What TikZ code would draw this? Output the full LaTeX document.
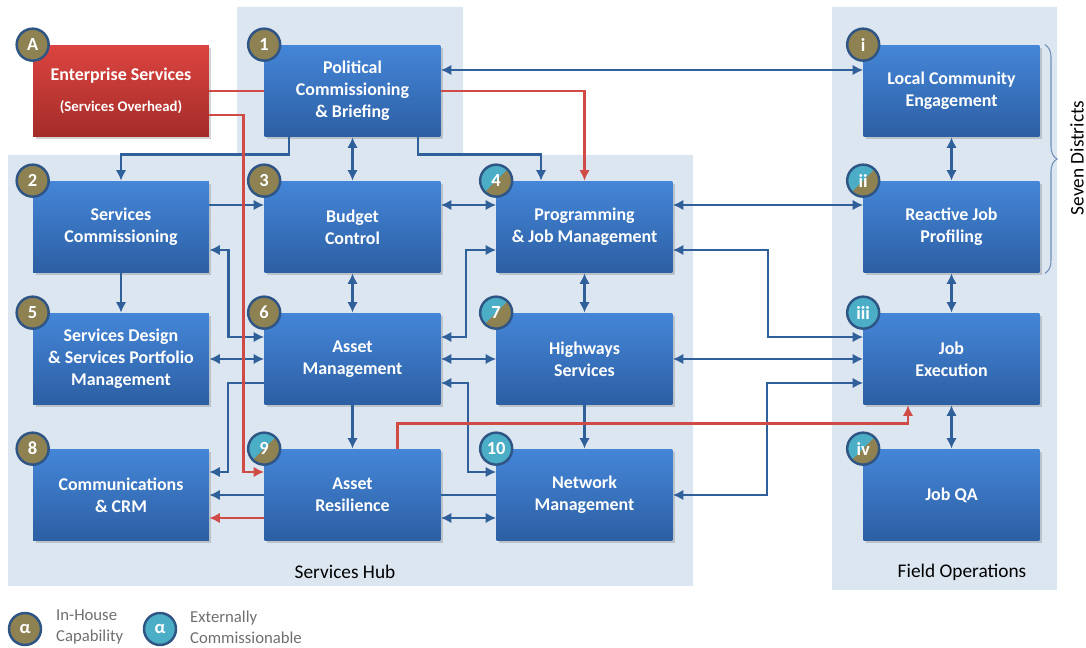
\documentclass[tikz,border=0pt]{standalone}
\usepackage{fontspec}
\setmainfont{Carlito}
\usetikzlibrary{arrows.meta,shadows,decorations.pathreplacing}

\definecolor{panelbg}{HTML}{DCE6F1}
\definecolor{boxtop}{HTML}{4586D8}
\definecolor{boxbot}{HTML}{2C5FA3}
\definecolor{redtop}{HTML}{DC4440}
\definecolor{redbot}{HTML}{A32C28}
\definecolor{linkblue}{HTML}{30609A}
\definecolor{linkred}{HTML}{D04A46}
\definecolor{olivec}{HTML}{8E8152}
\definecolor{tealc}{HTML}{4BAEC6}
\definecolor{rimblue}{HTML}{2E5584}
\definecolor{legendgray}{HTML}{6E6E6E}

\begin{document}
\begin{tikzpicture}[x=0.02cm,y=-0.02cm]
        \tikzstyle{unit}=[rectangle, minimum width=3.52cm, minimum height=1.84cm, inner sep=0pt, top color=boxtop, bottom color=boxbot, text=white, align=center, font=\bfseries\fontsize{10.2}{12.5}\selectfont, drop shadow={shadow xshift=0.05cm, shadow yshift=-0.05cm, opacity=0.35}]
        \tikzstyle{badge}=[circle, draw=rimblue, line width=1.4pt, fill=olivec, minimum size=0.64cm, inner sep=0pt, text=white, font=\bfseries\fontsize{10.5}{11}\selectfont]
        \tikzstyle{extbadge}=[badge, fill=tealc]
        \tikzstyle{mixbadge}=[badge, fill=tealc, path picture={\fill[olivec] (path picture bounding box.south west) -- (path picture bounding box.north east) -- (path picture bounding box.south east) -- cycle;}]
        \tikzstyle{link}=[draw=linkblue, line width=1.4pt, >={Latex[length=6pt,width=6pt]}]
        \tikzstyle{redlink}=[link, draw=linkred]
        \tikzstyle{caption}=[font=\fontsize{11}{13}\selectfont]

        \useasboundingbox (0,0) rectangle (1086,648);

        % panels
        \fill[panelbg] (237,7) -- (463,7) -- (463,155) -- (693,155) -- (693,586) -- (8,586) -- (8,155) -- (237,155) -- cycle;
        \fill[panelbg] (832,7) rectangle (1057,590);

        \node[unit, top color=redtop, bottom color=redbot] (ent) at (121,91) {Enterprise Services\\[5pt]{\fontsize{8.4}{10}\selectfont(Services Overhead)}};
        \node[unit] (pcb) at (352.5,91) {Political\\Commissioning\\\& Briefing};
        \node[unit] (sc)  at (121,227) {Services\\Commissioning};
        \node[unit] (bc)  at (352.5,227) {Budget\\Control};
        \node[unit] (pjm) at (584.5,227) {Programming\\\& Job Management};
        \node[unit] (sd)  at (121,359) {Services Design\\\& Services Portfolio\\Management};
        \node[unit] (am)  at (352.5,359) {Asset\\Management};
        \node[unit] (hs)  at (584.5,359) {Highways\\Services};
        \node[unit] (crm) at (121,495) {Communications\\\& CRM};
        \node[unit] (ar)  at (352.5,495) {Asset\\Resilience};
        \node[unit] (nm)  at (584.5,495) {Network\\Management};
        \node[unit] (lce) at (951.5,91) {Local Community\\Engagement};
        \node[unit] (rjp) at (951.5,227) {Reactive Job\\Profiling};
        \node[unit] (je)  at (951.5,359) {Job\\Execution};
        \node[unit] (qa)  at (951.5,495) {Job QA};

        \node[badge]    (nA)   at (ent.north west) {A};
        \node[badge]    (n1)   at (pcb.north west) {1};
        \node[badge]    (n2)   at (sc.north west) {2};
        \node[badge]    (n3)   at (bc.north west) {3};
        \node[mixbadge] (n4)   at (pjm.north west) {4};
        \node[badge]    (n5)   at (sd.north west) {5};
        \node[badge]    (n6)   at (am.north west) {6};
        \node[mixbadge] (n7)   at (hs.north west) {7};
        \node[badge]    (n8)   at (crm.north west) {8};
        \node[mixbadge] (n9)   at (ar.north west) {9};
        \node[extbadge] (n10)  at (nm.north west) {10};
        \node[badge]    (ni)   at (lce.north west) {i};
        \node[mixbadge] (nii)  at (rjp.north west) {ii};
        \node[extbadge] (niii) at (je.north west) {iii};
        \node[mixbadge] (niv)  at (qa.north west) {iv};

        % blue links
        \draw[link,<->] ([yshift=0.42cm]pcb.east) -- ([yshift=0.42cm]lce.west);
        \draw[link,->] ([xshift=-1.27cm]pcb.south) -- ++(0,17) -| (sc.north);
        \draw[link,->] ([xshift=1.31cm]pcb.south) -- ++(0,17) -| ([xshift=-0.87cm]pjm.north);
        \draw[link,<->] (pcb) -- (bc);
        \draw[link,->] ([yshift=0.44cm]sc.east) -- ([yshift=0.44cm]bc.west);
        \draw[link,<->] ([yshift=0.44cm]bc.east) -- ([yshift=0.44cm]pjm.west);
        \draw[link,<->] ([yshift=0.44cm]pjm.east) -- ([yshift=0.44cm]rjp.west);
        \draw[link,->] (sc) -- (sd);
        \draw[link,<->] (bc) -- (am);
        \draw[link,<->] (pjm) -- (hs);
        \draw[link,<->] (lce) -- (rjp);
        \draw[link,<->] (rjp) -- (je);
        \draw[link,<->] (je) -- (qa);
        \draw[link,<->] ([yshift=-0.46cm]sc.east) -- ++(19,0) |- ([yshift=0.44cm]am.west);
        \draw[link,<->] (sd) -- (am);
        \draw[link,->] ([yshift=-0.48cm]am.west) -- ++(-36,0) |- ([yshift=0.46cm]crm.east);
        \draw[link,<->] ([yshift=-0.46cm]pjm.west) -- ++(-30,0) |- ([yshift=0.44cm]am.east);
        \draw[link,<->] (am) -- (hs);
        \draw[link,<->] ([yshift=-0.48cm]am.east) -- ++(27,0) |- ([yshift=0.46cm]nm.west);
        \draw[link,->] (am) -- (ar);
        \draw[link,->] (hs) -- (nm);
        \draw[link,->] (ar) -- (crm);
        \draw[link] (ar) -- (nm);
        \draw[link,<->] ([yshift=-0.46cm]ar.east) -- ([yshift=-0.46cm]nm.west);
        \draw[link,<->] ([yshift=-0.46cm]pjm.east) -- ++(95,0) |- ([yshift=0.44cm]je.west);
        \draw[link,<->] (hs) -- (je);
        \draw[link,<->] ([yshift=-0.48cm]je.west) -- ++(-96,0) |- (nm.east);

        % red links
        \draw[redlink] (ent.east) -- (ent.east -| pcb.west);
        \draw[redlink,->] (ent.east -| pcb.east) -| (pjm.north);
        \draw[redlink,->] ([yshift=-0.48cm]ent.east) -- ++(34,0) |- ([yshift=0.46cm]ar.west);
        \draw[redlink,->] ([yshift=-0.46cm]ar.west) -- ([yshift=-0.46cm]crm.east);
        \draw[redlink,->] ([xshift=0.9cm]ar.north) -- ++(0,-25) -| ([xshift=-0.87cm]je.south);

        % districts brace
        \draw[draw=linkblue!70, line width=0.6pt, decorate, decoration={brace, amplitude=7pt}] ([xshift=0.1cm]lce.north east) -- ([xshift=0.1cm]rjp.south east);
        \node[caption, rotate=90] (seven) at (1077,158) {Seven Districts};

        \node[caption] (hub) at (345,572) {Services Hub};
        \node[caption] (fieldops) at (962,572) {Field Operations};

        % legend
        \node[badge] (inhouse) at (25,629) {α};
        \node[anchor=west, align=left, text=legendgray, font=\fontsize{9.5}{12}\selectfont] (inhouselbl) at (50,627) {In-House\\Capability};
        \node[extbadge] (external) at (160,629) {α};
        \node[anchor=west, align=left, text=legendgray, font=\fontsize{9.5}{12}\selectfont] (externallbl) at (184,627) {Externally\\Commissionable};
    \end{tikzpicture}
\end{document}
